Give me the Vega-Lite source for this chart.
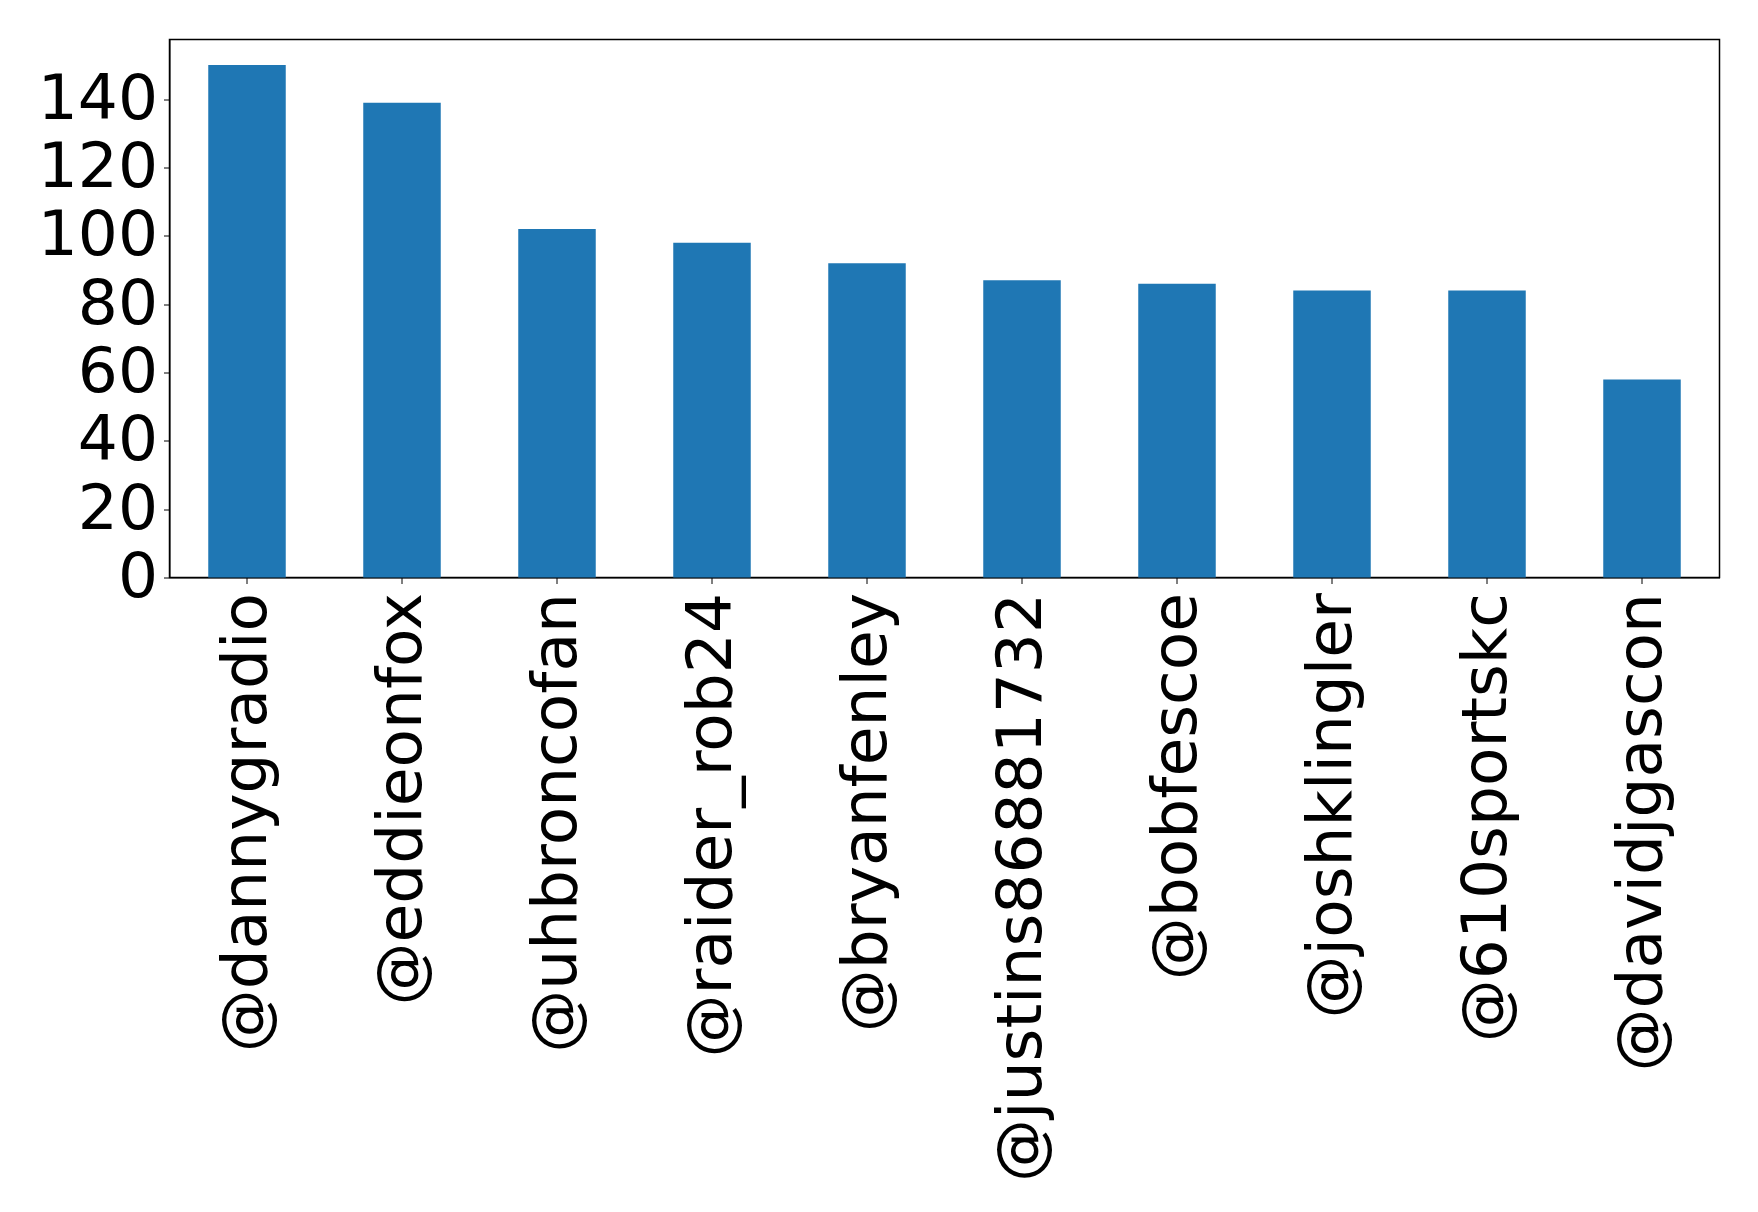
{
  "$schema": "https://vega.github.io/schema/vega-lite/v6.json",
  "autosize": "none",
  "width": 1550,
  "height": 538,
  "padding": {"left": 169.5, "top": 39.5, "right": 38.5, "bottom": 634.5},
  "background": "white",
  "config": {
    "view": {"stroke": "black", "strokeWidth": 1.5},
    "font": "DejaVu Sans"
  },
  "data": {
    "values": [
      {"user": "@dannygradio", "count": 150},
      {"user": "@eddieonfox", "count": 139},
      {"user": "@uhbroncofan", "count": 102},
      {"user": "@raider_rob24", "count": 98},
      {"user": "@bryanfenley", "count": 92},
      {"user": "@justins86881732", "count": 87},
      {"user": "@bobfescoe", "count": 86},
      {"user": "@joshklingler", "count": 84},
      {"user": "@610sportskc", "count": 84},
      {"user": "@davidjgascon", "count": 58}
    ]
  },
  "mark": {"type": "bar", "color": "#1f77b4"},
  "encoding": {
    "x": {
      "field": "user",
      "type": "nominal",
      "sort": null,
      "scale": {"paddingInner": 0.5, "paddingOuter": 0.25},
      "axis": {
        "title": null,
        "labelAngle": -90,
        "labelFont": "DejaVu Sans",
        "labelFontSize": 63,
        "labelColor": "black",
        "labelPadding": 9,
        "tickSize": 6,
        "tickColor": "black",
        "domainColor": "black",
        "labelLimit": 0
      }
    },
    "y": {
      "field": "count",
      "type": "quantitative",
      "scale": {"domain": [0, 157.5], "nice": false},
      "axis": {
        "title": null,
        "values": [0, 20, 40, 60, 80, 100, 120, 140],
        "grid": false,
        "labelFont": "DejaVu Sans",
        "labelFontSize": 63,
        "labelColor": "black",
        "labelPadding": 6,
        "tickSize": 6,
        "tickColor": "black",
        "domainColor": "black"
      }
    }
  }
}
